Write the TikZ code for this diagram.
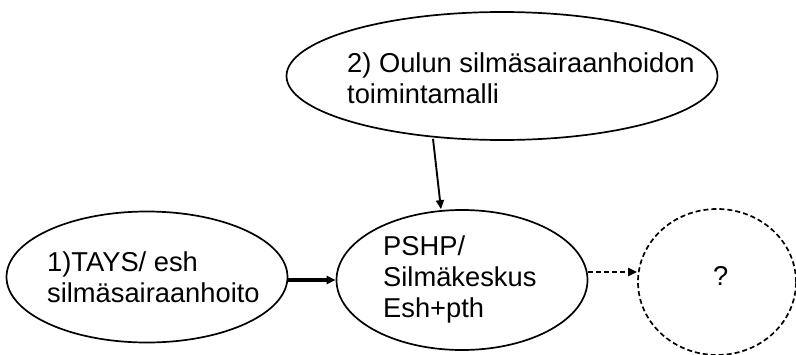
\documentclass[tikz,border=0pt]{standalone}
\usepackage{fontspec}
\setmainfont{Liberation Sans}
\usetikzlibrary{arrows.meta,shapes.geometric}

\begin{document}
\begin{tikzpicture}[x=1pt,y=-1pt,>={Triangle[length=9pt,width=8pt]},
  oval/.style={ellipse,draw,line width=1.7pt,inner sep=0pt},
  txt/.style={font=\fontsize{27.3}{31}\selectfont,align=left,anchor=base west,inner sep=0pt}]
  \useasboundingbox (0,0) rectangle (796,354);
  % ellipses
  \node[oval,minimum width=431pt,minimum height=128pt] (oulu) at (502,76) {};
  \node[oval,minimum width=281pt,minimum height=131pt] (tays) at (147,277) {};
  \node[oval,minimum width=251pt,minimum height=140pt] (pshp) at (462,280) {};
  \node[oval,dashed,dash pattern=on 5pt off 3pt,minimum width=158pt,minimum height=146pt] (q) at (717,282) {};
  % texts (anchored at the baseline of the last line)
  \node[txt] (ouluT) at (347,103) {2) Oulun silmäsairaanhoidon\\toimintamalli};
  \node[txt] (taysT) at (47,302) {1)TAYS/ esh\\silmäsairaanhoito};
  \node[txt] (pshpT) at (383,317) {PSHP/\\Silmäkeskus\\Esh+pth};
  \node[txt] (qT) at (713,285) {?};
  % connectors
  \draw[->,line width=3.5pt] (tays.east |- pshp) -- (pshp.west);
  \draw[->,line width=1.9pt] ([xshift=-69pt,yshift=2pt]oulu.south) -- ([xshift=-21pt]pshp.north);
  \draw[->,line width=1.9pt,dash pattern=on 5pt off 3pt] ([yshift=8pt]pshp.east) -- ([yshift=10pt]q.west);
\end{tikzpicture}
\end{document}
